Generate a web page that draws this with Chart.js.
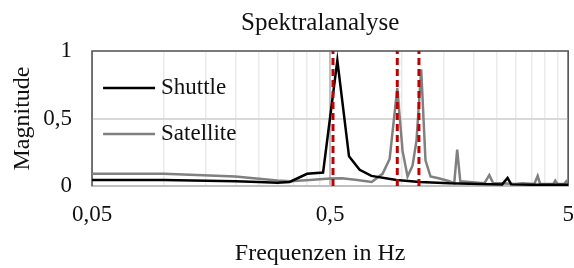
<!DOCTYPE html>
<html>
<head>
<meta charset="utf-8">
<script src="https://cdn.jsdelivr.net/npm/chart.js@4.4.1/dist/chart.umd.min.js"></script>
<style>
body{margin:0;background:#fff}
#box{width:574px;height:268px}
</style>
</head>
<body>
<div id="box"><canvas id="myChart"></canvas></div>
<script>
// values
var xMajor = [0.05, 0.5, 5]
var yTicks = [0, 0.5, 1]
var markerFreq = [0.514, 0.957, 1.18]

var shuttleFreq = [0.05, 0.1, 0.2, 0.25, 0.3, 0.338, 0.40, 0.467, 0.536, 0.60, 0.665, 0.745, 0.95, 1.19, 1.585, 2.12, 2.64, 2.78, 2.88, 3.5, 4.2, 5]
var shuttleMag = [0.045, 0.045, 0.035, 0.03, 0.025, 0.03, 0.09, 0.1, 0.93, 0.22, 0.12, 0.075, 0.045, 0.03, 0.02, 0.015, 0.012, 0.06, 0.012, 0.01, 0.01, 0.01]

var satFreq = [0.05, 0.1, 0.2, 0.3, 0.34, 0.41, 0.5, 0.56, 0.65, 0.747, 0.83, 0.889, 0.957, 1.007, 1.057, 1.109, 1.153, 1.206, 1.257, 1.32, 1.44, 1.585, 1.66, 1.708, 1.76, 1.92, 2.22, 2.33, 2.42, 2.57, 3.0, 3.2, 3.6, 3.72, 3.81, 4.33, 4.41, 4.5, 4.81, 4.91, 5]
var satMag = [0.09, 0.09, 0.07, 0.04, 0.035, 0.045, 0.055, 0.058, 0.045, 0.03, 0.09, 0.2, 0.725, 0.26, 0.07, 0.15, 0.34, 0.865, 0.19, 0.07, 0.055, 0.035, 0.02, 0.27, 0.035, 0.03, 0.02, 0.08, 0.02, 0.02, 0.015, 0.02, 0.015, 0.075, 0.015, 0.015, 0.04, 0.015, 0.015, 0.035, 0.02]

var chartTitle = 'Spektralanalyse'
var xTitle = 'Frequenzen in Hz'
var yTitle = 'Magnitude'

var FONT = "'Liberation Serif', 'Times New Roman', serif"
var TXT = '#111'

function pts(xs, ys){
	var out = []
	for(var i=0;i<xs.length;i++){
		out.push({x: xs[i], y: ys[i]})
	}
	return out
}

// gridline positions for the log axis: major + 2..9 times each decade start
var xAllTicks = []
for(var d=0; d<xMajor.length; d++){
	xAllTicks.push({value: xMajor[d], major: true})
	if(d < xMajor.length-1){
		for(var k=2;k<=9;k++){
			xAllTicks.push({value: xMajor[d]*k, major: false})
		}
	}
}

var datasets = []
markerFreq.forEach(function(f){
	datasets.push({
		data: [{x: f, y: yTicks[0]}, {x: f, y: yTicks[yTicks.length-1]}],
		borderColor: '#c00000',
		borderWidth: 3,
		borderDash: [7, 4],
		pointRadius: 0,
		showLine: true
	})
})
datasets.push({
	label: 'Shuttle',
	data: pts(shuttleFreq, shuttleMag),
	borderColor: '#000000',
	borderWidth: 2.5,
	pointRadius: 0,
	showLine: true
})
datasets.push({
	label: 'Satellite',
	data: pts(satFreq, satMag),
	borderColor: '#808080',
	borderWidth: 2.5,
	pointRadius: 0,
	showLine: true
})

// frame, legend and the two horizontal titles (Excel puts them a bit left of centre)
var framePlugin = {
	id: 'frame',
	beforeDatasetsDraw: function(chart){
		var a = chart.chartArea, c = chart.ctx
		c.save()
		c.strokeStyle = '#595959'
		c.lineWidth = 1.5
		c.beginPath()
		c.moveTo(a.left, a.bottom)
		c.lineTo(a.left, a.top)
		c.lineTo(a.right, a.top)
		c.lineTo(a.right, a.bottom)
		c.stroke()
		c.restore()
	},
	afterDatasetsDraw: function(chart){
		var a = chart.chartArea, c = chart.ctx
		var items = [
			{text: 'Shuttle', color: '#000000', y: a.top + 37},
			{text: 'Satellite', color: '#808080', y: a.top + 83}
		]
		c.save()
		c.font = '23px ' + FONT
		c.textBaseline = 'middle'
		items.forEach(function(it){
			c.strokeStyle = it.color
			c.lineWidth = 2.5
			c.beginPath()
			c.moveTo(a.left + 11, it.y)
			c.lineTo(a.left + 63, it.y)
			c.stroke()
			c.fillStyle = TXT
			c.fillText(it.text, a.left + 69, it.y)
		})

		var cx = (a.left + a.right) / 2 - 10
		c.textAlign = 'center'
		c.font = '25px ' + FONT
		c.fillText(chartTitle, cx, a.top - 28)
		c.font = '24px ' + FONT
		c.fillText(xTitle, cx, chart.height - 14.4)
		c.restore()
	}
}

var ctx = document.getElementById('myChart').getContext('2d')
var chart = new Chart(ctx, {
	type: 'scatter',
	data: {datasets: datasets},
	plugins: [framePlugin],
	options: {
		responsive: true,
		maintainAspectRatio: false,
		animation: false,
		layout: {padding: {top: 51, bottom: 39.4, left: 0, right: 0}},
		plugins: {
			legend: {display: false},
			tooltip: {enabled: false},
			title: {display: false}
		},
		scales: {
			x: {
				type: 'logarithmic',
				min: xMajor[0],
				max: xMajor[xMajor.length-1],
				afterBuildTicks: function(scale){
					scale.ticks = xAllTicks.map(function(t){ return {value: t.value, major: t.major} })
				},
				ticks: {
					autoSkip: false,
					maxRotation: 0,
					padding: 0,
					color: TXT,
					font: {family: FONT, size: 23},
					callback: function(value, index, ticks){
						if(!ticks[index].major) return ''
						return String(value).replace('.', ',')
					}
				},
				grid: {
					drawTicks: true,
					tickLength: 15,
					tickColor: 'rgba(0,0,0,0)',
					color: function(c){ return c.tick && c.tick.major ? '#bfbfbf' : '#ebebeb' },
					lineWidth: function(c){ return c.tick && c.tick.major ? 2 : 1.5 }
				},
				border: {color: '#bfbfbf', width: 2}
			},
			y: {
				min: yTicks[0],
				max: yTicks[yTicks.length-1],
				afterBuildTicks: function(scale){
					scale.ticks = yTicks.map(function(v){ return {value: v} })
				},
				ticks: {
					padding: 20,
					color: TXT,
					font: {family: FONT, size: 23},
					callback: function(value){ return String(value).replace('.', ',') }
				},
				grid: {
					drawTicks: false,
					color: '#d9d9d9',
					lineWidth: 2
				},
				border: {display: false},
				title: {
					display: true,
					text: yTitle,
					color: TXT,
					font: {family: FONT, size: 24},
					padding: {top: 8, bottom: -13.5}
				}
			}
		}
	}
})
</script>
</body>
</html>
